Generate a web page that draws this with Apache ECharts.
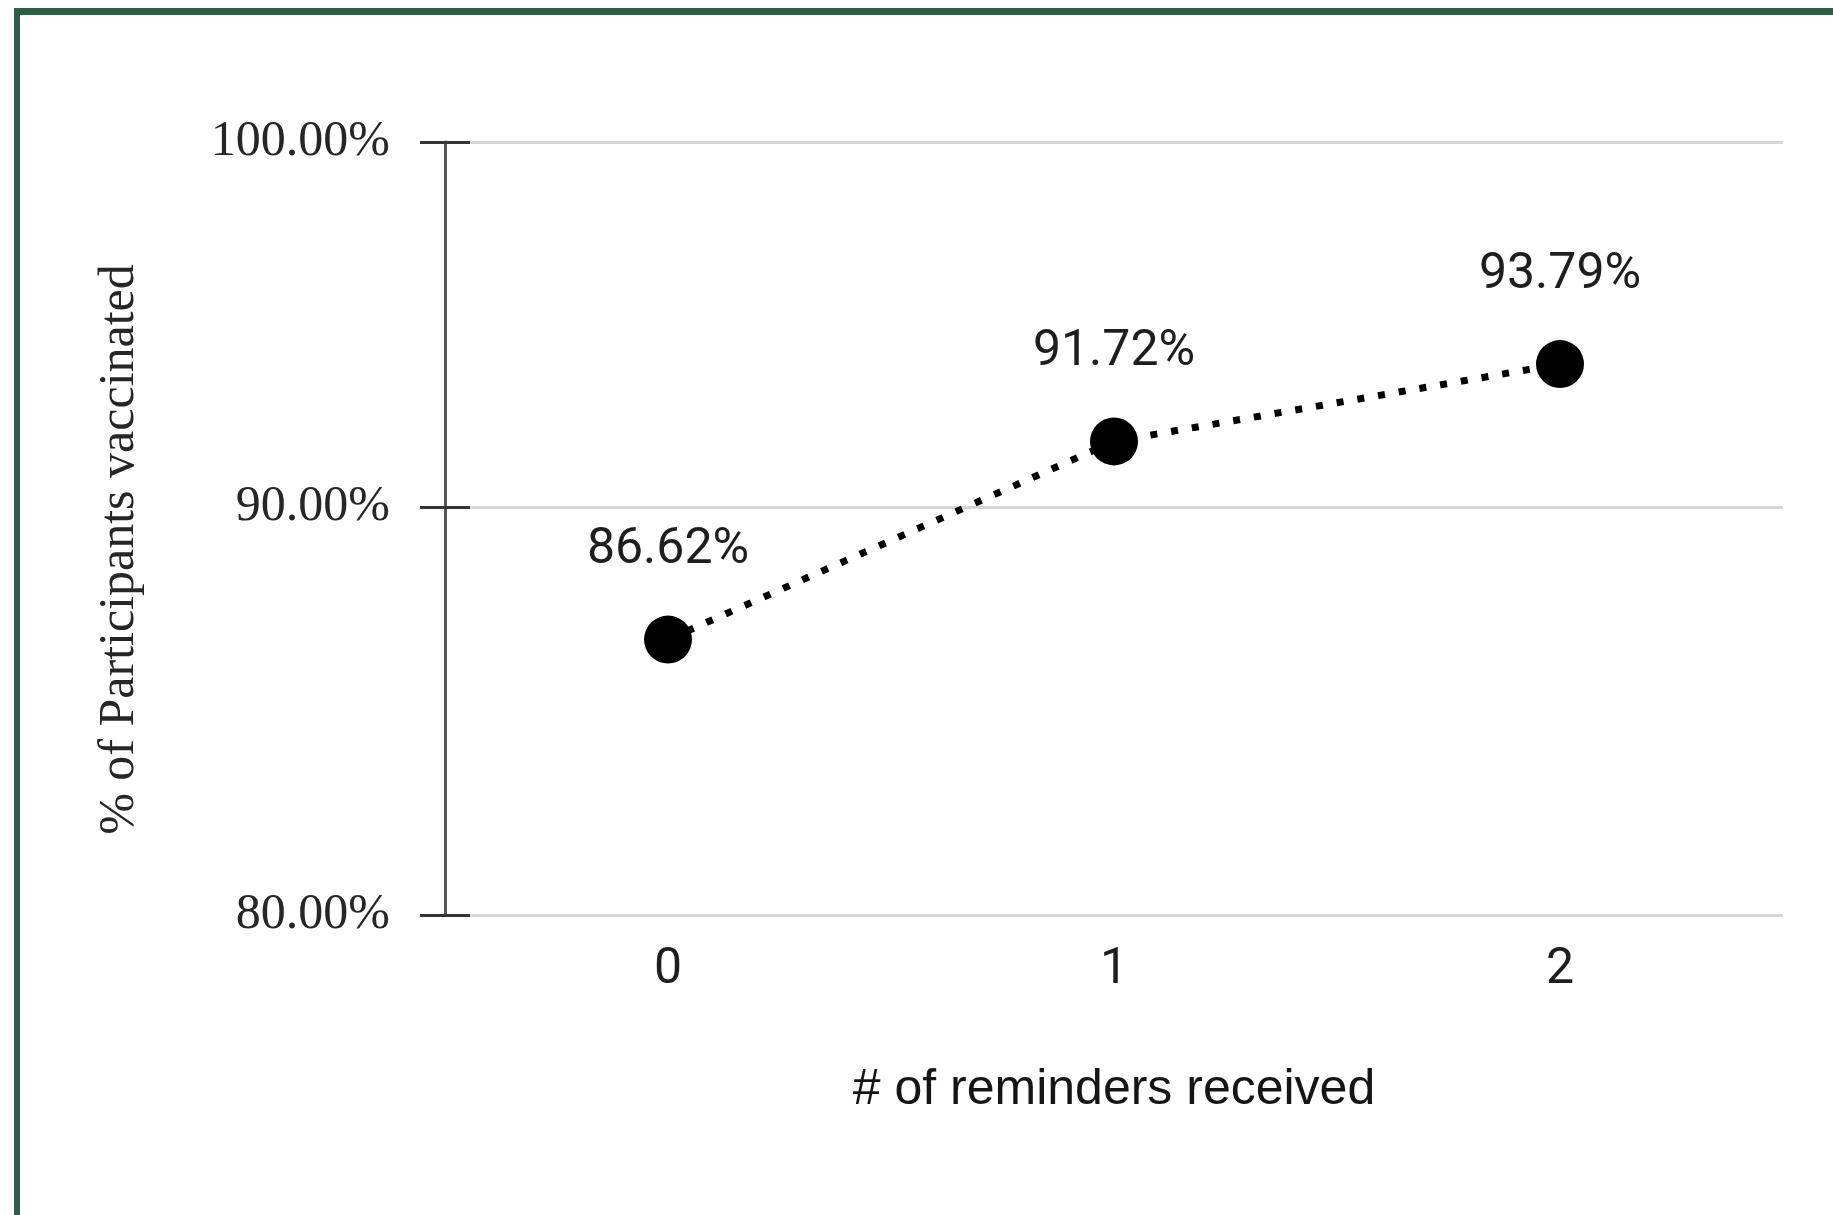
<!DOCTYPE html>
<html><head><meta charset="utf-8">
<script src="https://cdn.jsdelivr.net/npm/echarts@6/dist/echarts.min.js"></script>
<style>
html,body{margin:0;padding:0;background:#fff;}
#chart{width:1833px;height:1215px;position:absolute;left:0;top:0;}
#frame{position:absolute;left:14px;top:8px;right:0;bottom:0;border-top:7px solid #2e5e46;border-left:6px solid #2e5e46;pointer-events:none;}
</style></head><body>
<div id="chart"></div><div id="frame"></div>
<script>
const categories = ['0', '1', '2'];
const vaccinatedPct = [86.62, 91.72, 93.79];
const yTicks = [80, 90, 100];
const xTitle = '# of reminders received';
const yTitle = '% of Participants vaccinated';

const chart = echarts.init(document.getElementById('chart'), null, {renderer: 'canvas'});
const pctFmt = v => Number(v).toFixed(2) + '%';
const yBase = {
  type: 'log', logBase: 10, min: 80, max: 100
};
chart.setOption({
  animation: false,
  backgroundColor: '#fff',
  grid: {left: 445, right: 50, top: 142, bottom: 300, outerBoundsMode: 'none', containLabel: false},
  xAxis: {
    type: 'category', data: categories, boundaryGap: true,
    axisLine: {show: false}, axisTick: {show: false},
    axisLabel: {margin: 30, fontFamily: 'Roboto', fontSize: 50, color: '#1e1e1e'},
    name: xTitle, nameLocation: 'middle', nameGap: 150,
    nameTextStyle: {fontFamily: 'Liberation Sans', fontSize: 50, color: '#151515'}
  },
  yAxis: [
    Object.assign({}, yBase, {
      position: 'left',
      axisLine: {show: true, lineStyle: {color: '#555', width: 3}},
      axisTick: {show: true, customValues: yTicks, length: 25, lineStyle: {color: '#333', width: 3}},
      axisLabel: {customValues: yTicks, margin: 55, formatter: pctFmt, fontFamily: 'Liberation Serif', fontSize: 50, color: '#262626'},
      splitLine: {show: true, lineStyle: {color: '#d6d6d6', width: 3}},
      name: yTitle, nameLocation: 'middle', nameGap: 300, nameRotate: 90,
      nameTextStyle: {fontFamily: 'Liberation Serif', fontSize: 50, color: '#262626', padding: [0, 42, 0, 0]}
    }),
    Object.assign({}, yBase, {
      position: 'left',
      axisLine: {show: false},
      axisTick: {show: true, inside: true, customValues: yTicks, length: 25, lineStyle: {color: '#333', width: 3}},
      axisLabel: {show: false},
      splitLine: {show: false}
    })
  ],
  series: [{
    type: 'line', data: vaccinatedPct, yAxisIndex: 0,
    symbol: 'circle', symbolSize: 48,
    itemStyle: {color: '#000'},
    lineStyle: {color: '#000', width: 7, type: [7, 14]},
    label: {show: true, position: 'top', distance: 40, formatter: p => pctFmt(p.value),
      fontFamily: 'Roboto', fontSize: 50, color: '#1e1e1e'},
    z: 5
  }]
});
</script>
</body></html>
